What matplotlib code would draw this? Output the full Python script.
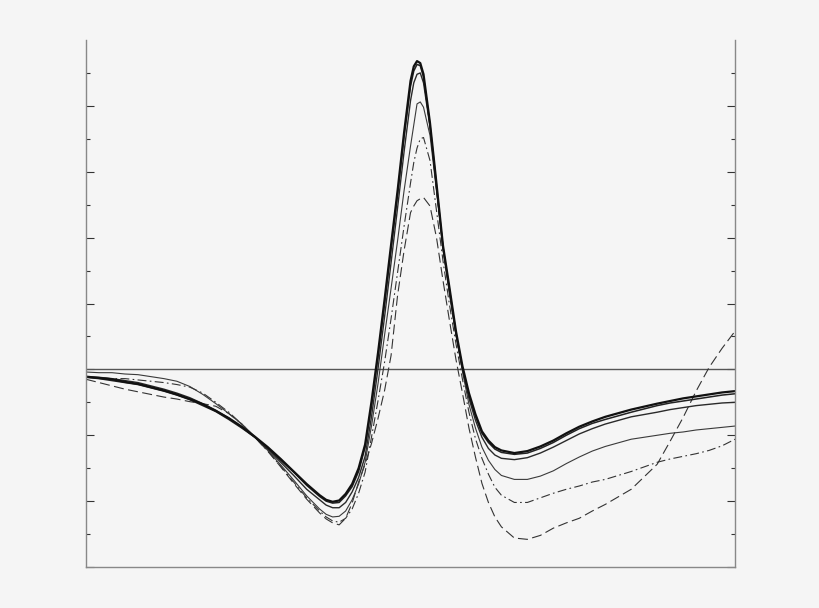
import numpy as np
import matplotlib
matplotlib.use("Agg")
import matplotlib.pyplot as plt
from matplotlib.ticker import FixedLocator

# sample positions along the time axis (0..100)
t = [0, 2, 4, 6, 8, 10, 12, 14, 16, 18, 20, 22, 24, 26, 28, 30, 32, 34, 36,
     37, 38, 39, 40, 41, 42, 43, 44, 45, 46, 47, 48, 49, 50,
     50.5, 51, 51.5, 52,
     53, 54, 55, 56, 57, 58, 59, 60, 61, 62, 63, 64,
     66, 68, 70, 72, 74, 76, 78, 80,
     84, 88, 90, 92, 94, 96, 98, 100]

# thick solid
wave_a = [-0.11, -0.13, -0.15, -0.19, -0.22, -0.27, -0.32, -0.38, -0.45, -0.53,
          -0.63, -0.74, -0.87, -1.02, -1.18, -1.36, -1.55, -1.74, -1.91,
          -1.98, -2.01, -1.99, -1.89, -1.74, -1.50, -1.14, -0.48, 0.26, 1.06,
          1.89, 2.71, 3.59, 4.38,
          4.60, 4.68, 4.65, 4.48,
          3.74, 2.82, 1.88, 1.24, 0.58, 0.05, -0.36, -0.68, -0.94, -1.08, -1.18, -1.23,
          -1.27, -1.24, -1.17, -1.08, -0.97, -0.87, -0.79, -0.72,
          -0.61, -0.52, -0.48, -0.44, -0.41, -0.38, -0.35, -0.33]
# solid, almost on top of wave_a
wave_b = [-0.12, -0.14, -0.17, -0.20, -0.23, -0.28, -0.33, -0.39, -0.46, -0.55,
          -0.64, -0.76, -0.89, -1.03, -1.20, -1.38, -1.56, -1.76, -1.93,
          -2.00, -2.03, -2.02, -1.92, -1.78, -1.55, -1.18, -0.55, 0.20, 1.00,
          1.83, 2.65, 3.53, 4.30,
          4.53, 4.63, 4.61, 4.44,
          3.71, 2.79, 1.85, 1.21, 0.55, 0.02, -0.39, -0.71, -0.97, -1.11, -1.21, -1.26,
          -1.29, -1.27, -1.20, -1.11, -1.00, -0.90, -0.82, -0.76,
          -0.65, -0.55, -0.51, -0.48, -0.45, -0.42, -0.39, -0.37]
wave_c = [-0.11, -0.12, -0.14, -0.17, -0.20, -0.25, -0.30, -0.36, -0.43, -0.52,
          -0.62, -0.74, -0.88, -1.03, -1.21, -1.41, -1.61, -1.82, -1.98,
          -2.06, -2.10, -2.10, -2.02, -1.86, -1.64, -1.32, -0.71, 0.02, 0.80,
          1.62, 2.45, 3.30, 4.08,
          4.35, 4.48, 4.50, 4.35,
          3.68, 2.74, 1.83, 1.17, 0.53, 0.00, -0.44, -0.77, -1.03, -1.20, -1.30, -1.35,
          -1.37, -1.34, -1.27, -1.18, -1.08, -0.98, -0.90, -0.83,
          -0.72, -0.65, -0.61, -0.58, -0.55, -0.53, -0.51, -0.50]
# thin solid
wave_d = [-0.04, -0.05, -0.05, -0.07, -0.08, -0.11, -0.14, -0.18, -0.26, -0.38,
          -0.52, -0.67, -0.83, -1.02, -1.23, -1.45, -1.68, -1.92, -2.12,
          -2.20, -2.24, -2.23, -2.15, -1.98, -1.74, -1.41, -0.85, -0.21, 0.52,
          1.23, 1.95, 2.71, 3.39,
          3.71, 4.03, 4.06, 3.98,
          3.55, 2.71, 1.88, 1.15, 0.53, -0.03, -0.53, -0.89, -1.18, -1.38, -1.52, -1.61,
          -1.67, -1.67, -1.62, -1.54, -1.43, -1.33, -1.24, -1.17,
          -1.06, -1.00, -0.97, -0.95, -0.92, -0.90, -0.88, -0.86]
# dash-dot
wave_e = [-0.12, -0.13, -0.14, -0.14, -0.16, -0.18, -0.20, -0.23, -0.27, -0.36,
          -0.50, -0.65, -0.83, -1.03, -1.24, -1.47, -1.71, -1.95, -2.15,
          -2.24, -2.30, -2.32, -2.26, -2.12, -1.88, -1.56, -1.02, -0.47, 0.11,
          0.77, 1.47, 2.17, 2.83,
          3.14, 3.36, 3.50, 3.52,
          3.17, 2.41, 1.65, 0.98, 0.39, -0.15, -0.65, -1.05, -1.35, -1.59, -1.79, -1.91,
          -2.02, -2.02, -1.95, -1.88, -1.82, -1.77, -1.71, -1.67,
          -1.55, -1.41, -1.36, -1.32, -1.28, -1.23, -1.16, -1.06]
# dashed
wave_f = [-0.15, -0.20, -0.25, -0.30, -0.34, -0.38, -0.42, -0.45, -0.49, -0.52,
          -0.56, -0.67, -0.83, -1.03, -1.24, -1.48, -1.73, -1.97, -2.18,
          -2.27, -2.33, -2.36, -2.26, -2.03, -1.71, -1.44, -1.12, -0.74, -0.32,
          0.21, 1.12, 1.80, 2.38,
          2.48, 2.56, 2.59, 2.61,
          2.48, 2.00, 1.35, 0.74, 0.15, -0.36, -0.89, -1.33, -1.73, -2.02, -2.24, -2.39,
          -2.56, -2.58, -2.52, -2.41, -2.33, -2.26, -2.15, -2.05,
          -1.82, -1.44, -1.09, -0.73, -0.33, 0.03, 0.32, 0.58]

bg = "#f5f5f5"
fig = plt.figure(figsize=(8.2, 6.08), dpi=100, facecolor=bg)
ax = fig.add_axes([0.1049, 0.0674, 0.7915, 0.8668], facecolor=bg)

ax.axhline(0, color="#555555", lw=1.0)

ax.plot(t, wave_f, color="#333333", lw=0.8, dashes=(9, 4))
ax.plot(t, wave_e, color="#333333", lw=0.8, dashes=(8, 3, 1.5, 3))
ax.plot(t, wave_d, color="#3a3a3a", lw=0.8)
ax.plot(t, wave_c, color="#2a2a2a", lw=1.0)
ax.plot(t, wave_b, color="#222222", lw=1.1)
ax.plot(t, wave_a, color="#111111", lw=1.6)

ax.set_xlim(0, 100)
ax.set_ylim(-3, 5)

ax.spines["top"].set_visible(False)
for side in ["left", "right", "bottom"]:
    ax.spines[side].set_color("#888888")
    ax.spines[side].set_linewidth(1.0)

ax.yaxis.set_major_locator(FixedLocator(np.arange(-3, 5, 1)))
ax.yaxis.set_minor_locator(FixedLocator(np.arange(-2.5, 5, 1)))
ax.tick_params(axis="y", which="both", direction="in", left=True, right=True,
               labelleft=False, labelright=False, color="#333333", width=0.8)
ax.tick_params(axis="y", which="major", length=6)
ax.tick_params(axis="y", which="minor", length=3)
ax.tick_params(axis="x", which="both", bottom=False, top=False, labelbottom=False)

fig.savefig("out.png", dpi=100, facecolor=bg)
